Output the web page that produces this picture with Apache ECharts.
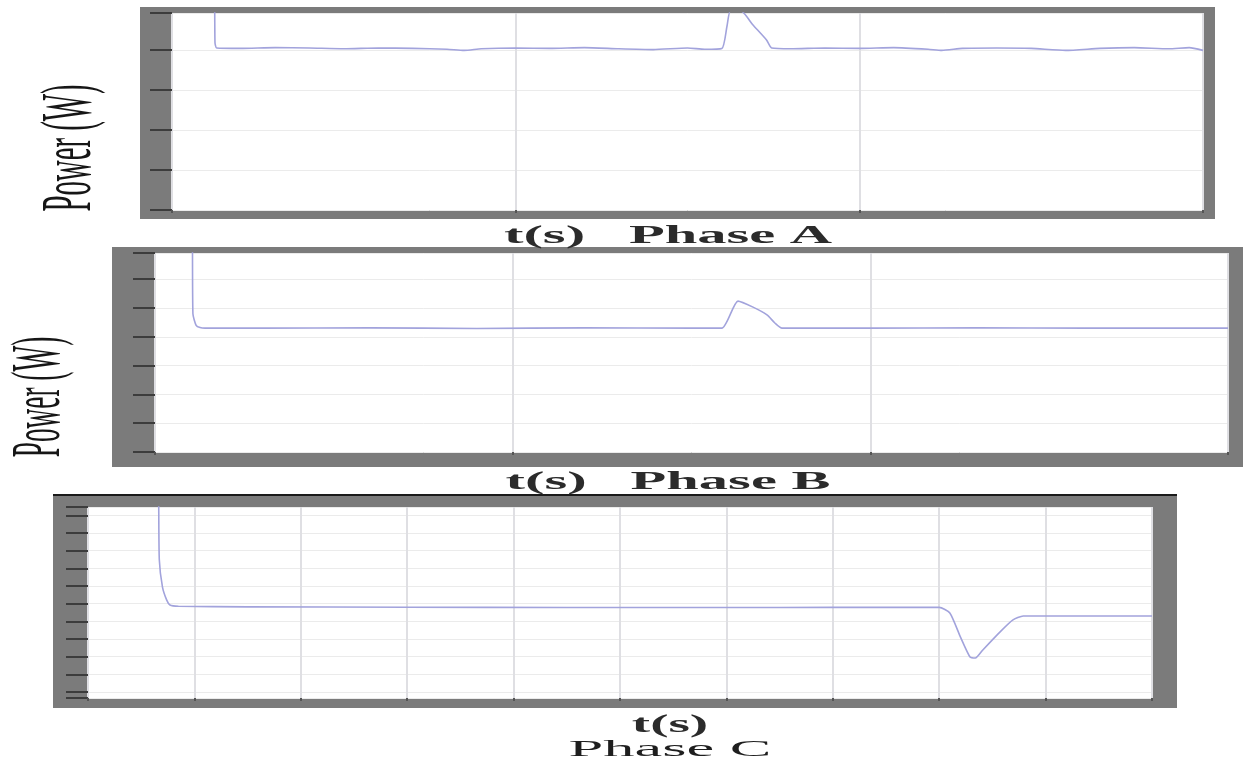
<!DOCTYPE html>
<html>
<head>
<meta charset="utf-8">
<script src="https://cdn.jsdelivr.net/npm/echarts@6/dist/echarts.min.js"></script>
<style>
html,body{margin:0;padding:0;background:#fff;}
#chart{width:1246px;height:763px;}
</style>
</head>
<body>
<div id="chart"></div>
<script>
// ---- Data (arbitrary units, no tick labels shown) ----
const phaseA_t = [0, 0.12, 0.125, 0.13, 0.2, 0.3, 0.4, 0.5, 0.6, 0.7, 0.8, 0.85, 0.9, 1.0, 1.1, 1.2, 1.3, 1.4, 1.5, 1.55, 1.6, 1.615, 1.625, 1.655, 1.69, 1.73, 1.745, 1.8, 1.9, 2.0, 2.1, 2.2, 2.24, 2.3, 2.4, 2.5, 2.6, 2.7, 2.8, 2.9, 2.96, 3.0];
const phaseA_p = [9, 9, 4.2, 4.05, 4.04, 4.06, 4.05, 4.03, 4.05, 4.04, 4.02, 3.99, 4.03, 4.05, 4.04, 4.06, 4.03, 4.01, 4.05, 4.02, 4.04, 4.6, 4.98, 4.98, 4.63, 4.25, 4.05, 4.03, 4.05, 4.04, 4.06, 4.02, 3.99, 4.04, 4.05, 4.04, 3.99, 4.04, 4.06, 4.03, 4.06, 3.99];

const phaseB_t = [0, 0.103, 0.106, 0.115, 0.126, 0.14, 0.3, 0.6, 0.9, 1.2, 1.5, 1.585, 1.63, 1.672, 1.711, 1.733, 1.753, 2.0, 2.3, 2.6, 3.0];
const phaseB_p = [9, 9, 4.8, 4.4, 4.32, 4.3, 4.3, 4.31, 4.29, 4.31, 4.3, 4.3, 5.24, 5.03, 4.76, 4.48, 4.30, 4.3, 4.31, 4.3, 4.3];

const phaseC_t = [0, 0.65, 0.67, 0.70, 0.74, 0.77, 0.85, 1.5, 3, 4.5, 6, 7, 8.0, 8.10, 8.20, 8.29, 8.34, 8.41, 8.57, 8.69, 8.79, 8.88, 9.5, 10];
const phaseC_p = [14, 14, 8.5, 6.94, 6.2, 5.92, 5.85, 5.82, 5.8, 5.78, 5.78, 5.79, 5.79, 5.47, 4.11, 2.98, 2.92, 3.38, 4.39, 5.07, 5.3, 5.3, 5.3, 5.3];

// axis ranges
const xRangeA = [0, 3], xRangeB = [0, 3], xRangeC = [0, 10];
const yRangeA = [0, 4.925], yRangeB = [0, 6.91], yRangeC = [0.66, 11.47];

const yLabel = 'Power (W)';
const xLabelA = 't(s)   Phase A';
const xLabelB = 't(s)   Phase B';
const xLabelC1 = 't(s)';
const xLabelC2 = 'Phase C';

function zip(t, p) { return t.map((v, i) => [v, p[i]]); }

const FRAME = '#7b7b7b';
const LINE = '#a2a3dc';

function makeX(idx, range, interval) {
  return {
    type: 'value', gridIndex: idx, min: range[0], max: range[1], interval: interval,
    axisLine: { show: false },
    axisLabel: { show: false },
    axisTick: { show: true, inside: false, length: 3, lineStyle: { color: '#555', width: 2 } },
    splitLine: { show: true, lineStyle: { color: '#dfdfe3', width: 2 } }
  };
}
function makeY(idx, range, opts) {
  return Object.assign({
    type: 'value', gridIndex: idx, min: range[0], max: range[1],
    axisLine: { show: false },
    axisLabel: { show: false },
    axisTick: { show: true, inside: false, length: 22, lineStyle: { color: '#3c3c3c', width: 2 } },
    splitLine: { show: true, lineStyle: { color: '#ebebeb', width: 1 } }
  }, opts);
}
function makeSeries(idx, data) {
  return {
    type: 'line', xAxisIndex: idx, yAxisIndex: idx, data: data,
    showSymbol: false, symbol: 'none', clip: true, smooth: 0.2,
    lineStyle: { color: LINE, width: 1.6 }, animation: false
  };
}

const chart = echarts.init(document.getElementById('chart'), null, { renderer: 'canvas' });
chart.setOption({
  animation: false,
  backgroundColor: '#ffffff',
  grid: [
    { left: 172, top: 13, width: 1031, height: 197, show: true, backgroundColor: '#ffffff', borderWidth: 0 },
    { left: 155, top: 253, width: 1073, height: 199, show: true, backgroundColor: '#ffffff', borderWidth: 0 },
    { left: 88, top: 507, width: 1064, height: 191, show: true, backgroundColor: '#ffffff', borderWidth: 0 }
  ],
  xAxis: [makeX(0, xRangeA, 1), makeX(1, xRangeB, 1), makeX(2, xRangeC, 1)],
  yAxis: [
    makeY(0, yRangeA, { interval: 1 }),
    makeY(1, yRangeB, { interval: 1 }),
    makeY(2, yRangeC, { minInterval: 1, maxInterval: 1, splitNumber: 10 })
  ],
  series: [
    makeSeries(0, zip(phaseA_t, phaseA_p)),
    makeSeries(1, zip(phaseB_t, phaseB_p)),
    makeSeries(2, zip(phaseC_t, phaseC_p))
  ],
  graphic: [
    // frames (drawn under the white plot areas)
    { type: 'rect', z: -10, shape: { x: 140, y: 7, width: 1075, height: 212 }, style: { fill: FRAME } },
    { type: 'rect', z: -10, shape: { x: 112, y: 247, width: 1131, height: 220 }, style: { fill: FRAME } },
    { type: 'rect', z: -10, shape: { x: 53, y: 495, width: 1124, height: 213 }, style: { fill: FRAME } },
    { type: 'rect', z: -9, shape: { x: 53, y: 494, width: 1124, height: 2 }, style: { fill: '#1a1a1a' } },
    // y labels
    { type: 'text', x: 71, y: 148, rotation: Math.PI / 2, scaleX: 0.4, scaleY: 1,
      style: { text: yLabel, fontFamily: 'Liberation Serif', fontSize: 72, fill: '#161616', align: 'center', verticalAlign: 'middle' } },
    { type: 'text', x: 41, y: 397, rotation: Math.PI / 2, scaleX: 0.39, scaleY: 1,
      style: { text: yLabel, fontFamily: 'Liberation Serif', fontSize: 70, fill: '#161616', align: 'center', verticalAlign: 'middle' } },
    // x labels
    { type: 'text', x: 668, y: 236, scaleX: 2.25, scaleY: 1,
      style: { text: xLabelA, fontFamily: 'Liberation Serif', fontWeight: 'bold', fontSize: 26, fill: '#2b2b2b', align: 'center', verticalAlign: 'middle' } },
    { type: 'text', x: 668, y: 482, scaleX: 2.25, scaleY: 1,
      style: { text: xLabelB, fontFamily: 'Liberation Serif', fontWeight: 'bold', fontSize: 26, fill: '#2b2b2b', align: 'center', verticalAlign: 'middle' } },
    { type: 'text', x: 670, y: 726, scaleX: 2.2, scaleY: 1,
      style: { text: xLabelC1, fontFamily: 'Liberation Serif', fontWeight: 'bold', fontSize: 25, fill: '#2b2b2b', align: 'center', verticalAlign: 'middle' } },
    { type: 'text', x: 670, y: 750, scaleX: 2.6, scaleY: 1,
      style: { text: xLabelC2, fontFamily: 'Liberation Serif', fontWeight: 'normal', fontSize: 24, fill: '#1e1e1e', align: 'center', verticalAlign: 'middle' } }
  ]
});
</script>
</body>
</html>
